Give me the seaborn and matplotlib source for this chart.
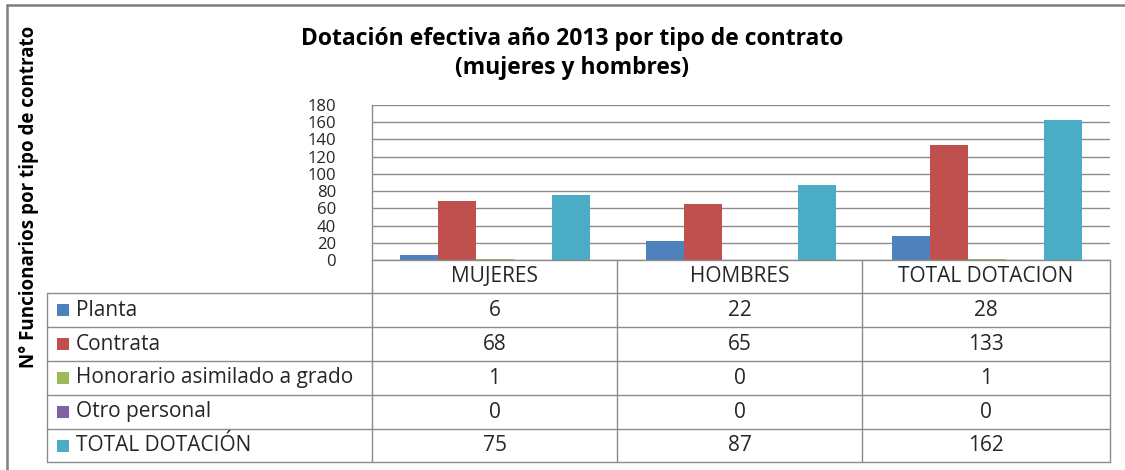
import matplotlib
matplotlib.use("Agg")
import matplotlib.pyplot as plt
import seaborn as sns
import pandas as pd
from matplotlib.patches import Rectangle
from matplotlib.lines import Line2D

# datos
categorias = ["MUJERES", "HOMBRES", "TOTAL DOTACION"]
series = ["Planta", "Contrata", "Honorario asimilado a grado", "Otro personal", "TOTAL DOTACIÓN"]
planta = [6, 22, 28]
contrata = [68, 65, 133]
honorario = [1, 0, 1]
otro = [0, 0, 0]
total = [75, 87, 162]
colores = ["#4F81BD", "#C0504D", "#9BBB59", "#8064A2", "#4BACC6"]
y_ticks = [0, 20, 40, 60, 80, 100, 120, 140, 160, 180]

valores = [planta, contrata, honorario, otro, total]
df = pd.DataFrame(
    [(c, s, v) for s, vals in zip(series, valores) for c, v in zip(categorias, vals)],
    columns=["categoria", "serie", "valor"],
)

sns.set_theme(style="white")
plt.rcParams["font.family"] = ["Open Sans", "DejaVu Sans"]

W, H = 1125, 470
fig = plt.figure(figsize=(W / 100, H / 100), dpi=100)


def fx(x):
    return x / W


def fy(y):
    return 1 - y / H


gris = "#8C8C8C"
texto = "#262626"


def linea(xa, ya, xb, yb, color=gris, lw=1):
    fig.add_artist(Line2D([fx(xa), fx(xb)], [fy(ya), fy(yb)],
                          transform=fig.transFigure, color=color, lw=lw))


# marco exterior (solo arriba e izquierda visibles)
linea(7, 5, 1125, 5, color="#7F7F7F", lw=1.8)
linea(7, 5, 7, 470, color="#7F7F7F", lw=1.8)

# área del gráfico
x0, x1, ytop, ybot = 372, 1110, 105, 260
ax = fig.add_axes([fx(x0), fy(ybot), fx(x1) - fx(x0), fy(ytop) - fy(ybot)])
sns.barplot(data=df, x="categoria", y="valor", hue="serie", palette=colores,
            width=0.77, gap=0, linewidth=0, saturation=1, ax=ax, legend=False)
ax.set_ylim(0, 180)
ax.set_xlim(-0.5, 2.5)
ax.set_yticks(y_ticks)
ax.set_yticklabels([str(t) for t in y_ticks], fontsize=12, color=texto)
ax.tick_params(axis="y", length=0, pad=26)
ax.set_xticks([])
ax.set_xlabel("")
ax.set_ylabel("")
ax.yaxis.grid(True, color=gris, lw=1)
ax.set_axisbelow(True)
for side in ["top", "right", "bottom"]:
    ax.spines[side].set_visible(False)
ax.spines["left"].set_color(gris)
ax.spines["left"].set_linewidth(1)

# título
fig.text(fx(572), fy(39), "Dotación efectiva año 2013 por tipo de contrato",
         ha="center", va="center", fontsize=16.5, fontweight="bold", color="black")
fig.text(fx(572), fy(68), "(mujeres y hombres)",
         ha="center", va="center", fontsize=16.5, fontweight="bold", color="black")

# eje Y
fig.text(fx(29), fy(197), "N° Funcionarios por tipo de contrato", rotation=90,
         ha="center", va="center", fontsize=13.5, fontweight="bold", color="black")

# tabla de datos
col_x = [47, 372, 617, 862, 1110]
row_y = [260, 293, 327, 361, 395, 429, 462]

linea(col_x[1], row_y[0], col_x[-1], row_y[0])
for y in row_y[1:]:
    linea(col_x[0], y, col_x[-1], y)
linea(col_x[0], row_y[1], col_x[0], row_y[-1])
for x in col_x[1:]:
    linea(x, row_y[0], x, row_y[-1])

fs_tabla = 15
for i, cat in enumerate(categorias):
    xc = (col_x[i + 1] + col_x[i + 2]) / 2
    fig.text(fx(xc), fy((row_y[0] + row_y[1]) / 2), cat, ha="center", va="center",
             fontsize=fs_tabla, color=texto)

for j, (serie, vals, col) in enumerate(zip(series, valores, colores)):
    yc = (row_y[j + 1] + row_y[j + 2]) / 2
    fig.add_artist(Rectangle((fx(57), fy(yc + 6)), fx(12), fy(0) - fy(12),
                             transform=fig.transFigure, color=col, lw=0))
    fig.text(fx(76), fy(yc), serie, ha="left", va="center", fontsize=fs_tabla, color=texto)
    for i, v in enumerate(vals):
        xc = (col_x[i + 1] + col_x[i + 2]) / 2
        fig.text(fx(xc), fy(yc), str(v), ha="center", va="center",
                 fontsize=fs_tabla, color=texto)

fig.savefig("out.png", dpi=100)
